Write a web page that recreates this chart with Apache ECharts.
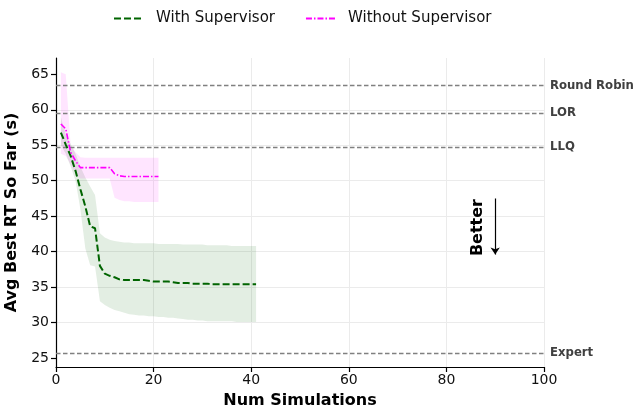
<!DOCTYPE html>
<html>
<head>
<meta charset="utf-8">
<script src="https://cdn.jsdelivr.net/npm/echarts@6/dist/echarts.min.js"></script>
<style>
  html, body { margin: 0; padding: 0; background: #fff; }
  #myChart { width: 636px; height: 413px; }
</style>
</head>
<body>
<div id="myChart"></div>
<script>
// simulations 1..41 (with supervisor) and 1..21 (without)
const simsWith = [1, 2, 3, 4, 5, 6, 7, 8, 9, 10, 11, 12, 13, 14, 15, 16, 17, 18, 19, 20,
  21, 22, 23, 24, 25, 26, 27, 28, 29, 30, 31, 32, 33, 34, 35, 36, 37, 38, 39, 40, 41]
const withMean = [56.8, 55.1, 53.5, 51.4, 48.8, 46.4, 43.6, 43.3, 38.0, 36.9, 36.6, 36.4, 36.1, 36.0, 36.0,
  36.0, 36.0, 36.0, 35.9, 35.8, 35.8, 35.8, 35.8, 35.7, 35.6, 35.6, 35.6, 35.5, 35.5, 35.5,
  35.5, 35.4, 35.4, 35.4, 35.4, 35.4, 35.4, 35.4, 35.4, 35.4, 35.4]
const withUpper = [59.0, 56.5, 55.2, 53.8, 52.0, 50.5, 49.2, 48.0, 42.6, 42.0, 41.7, 41.5, 41.4, 41.3, 41.3,
  41.2, 41.2, 41.2, 41.2, 41.2, 41.1, 41.1, 41.1, 41.1, 41.1, 41.0, 41.0, 41.0, 41.0, 41.0,
  40.9, 40.9, 40.9, 40.9, 40.9, 40.8, 40.8, 40.8, 40.8, 40.8, 40.8]
const withLower = [55.0, 53.8, 52.0, 50.0, 46.0, 40.5, 38.1, 37.9, 33.0, 32.5, 32.1, 31.8, 31.6, 31.4, 31.2,
  31.1, 31.0, 31.0, 30.9, 30.9, 30.8, 30.8, 30.7, 30.7, 30.6, 30.5, 30.4, 30.4, 30.3, 30.3,
  30.2, 30.2, 30.2, 30.2, 30.2, 30.2, 30.1, 30.1, 30.1, 30.1, 30.1]

const simsWithout = [1, 2, 3, 4, 5, 6, 7, 8, 9, 10, 11, 12, 13, 14, 15, 16, 17, 18, 19, 20, 21]
const withoutMean = [58.0, 57.3, 54.0, 52.8, 51.85, 51.85, 51.85, 51.85, 51.85, 51.85, 51.85,
  51.0, 50.7, 50.6, 50.6, 50.6, 50.6, 50.6, 50.6, 50.6, 50.6]
const withoutUpper = [65.3, 65.0, 55.0, 54.0, 53.3, 53.25, 53.25, 53.25, 53.25, 53.25, 53.25,
  53.25, 53.25, 53.25, 53.25, 53.25, 53.25, 53.25, 53.25, 53.25, 53.25]
const withoutLower = [53.8, 53.5, 52.3, 51.0, 50.3, 50.3, 50.3, 50.3, 50.3, 50.3, 50.3,
  47.6, 47.3, 47.1, 47.1, 47.0, 47.0, 47.0, 47.0, 47.0, 47.0]

// baselines
const baselineNames = ['Round Robin', 'LOR', 'LLQ', 'Expert']
const baselineValues = [63.4, 59.5, 54.7, 25.75]

const yTicks = [25, 30, 35, 40, 45, 50, 55, 60, 65]

const font = 'DejaVu Sans'
const pairs = (xs, ys) => xs.map((x, i) => [x, ys[i]])
const bandData = (xs, lo, hi) => xs.map((x, i) => [x, lo[i], hi[i]])

// one polygon for the whole band, drawn on the first item
function bandSeries (name, xs, lo, hi, color) {
  return {
    name: name,
    type: 'custom',
    silent: true,
    z: 1,
    data: bandData(xs, lo, hi),
    encode: { x: 0, y: [1, 2] },
    renderItem: function (params, api) {
      if (params.dataIndex !== 0) return null
      let pts = []
      for (let i = 0; i < xs.length; i++) pts.push(api.coord([xs[i], hi[i]]))
      for (let i = xs.length - 1; i >= 0; i--) pts.push(api.coord([xs[i], lo[i]]))
      return {
        type: 'polygon',
        shape: { points: pts },
        style: { fill: color }
      }
    }
  }
}

let myChart = echarts.init(document.getElementById('myChart'), null, { renderer: 'canvas' })

myChart.setOption({
  animation: false,
  textStyle: { fontFamily: font },
  legend: {
    data: ['With Supervisor', 'Without Supervisor'],
    top: 6,
    left: 108,
    itemWidth: 30,
    itemHeight: 14,
    itemGap: 30,
    itemStyle: { opacity: 0 },
    textStyle: { fontSize: 15, color: '#111', fontFamily: font, padding: [0, 0, 0, 7] }
  },
  grid: { left: 56, right: 92, top: 58, bottom: 46, outerBoundsMode: 'none' },
  xAxis: {
    type: 'value',
    min: 0,
    max: 100,
    interval: 20,
    name: 'Num Simulations',
    nameLocation: 'middle',
    nameGap: 26,
    nameTextStyle: { fontSize: 16, fontWeight: 'bold', color: '#000', fontFamily: font },
    axisLine: { show: true, onZero: false, lineStyle: { color: '#000', width: 1.2 } },
    axisTick: { show: true, length: 5, lineStyle: { color: '#000', width: 1.2 } },
    axisLabel: { fontSize: 14, color: '#111', margin: 6, fontFamily: font },
    splitLine: { show: true, lineStyle: { color: '#ebebeb', width: 1 } }
  },
  yAxis: {
    type: 'value',
    min: 23.75,
    max: 67.3,
    name: 'Avg Best RT So Far (s)',
    nameLocation: 'middle',
    nameGap: 33,
    nameTextStyle: { fontSize: 16, fontWeight: 'bold', color: '#000', fontFamily: font },
    axisLine: { show: true, lineStyle: { color: '#000', width: 1.2 } },
    axisTick: { show: true, length: 5, customValues: yTicks, lineStyle: { color: '#000', width: 1.2 } },
    axisLabel: { fontSize: 14, color: '#111', margin: 7, customValues: yTicks, fontFamily: font },
    splitLine: { show: true, showMinLine: false, showMaxLine: false, lineStyle: { color: '#ebebeb', width: 1 } }
  },
  series: [
    bandSeries('withBand', simsWith, withLower, withUpper, 'rgba(0,100,0,0.11)'),
    bandSeries('withoutBand', simsWithout, withoutLower, withoutUpper, 'rgba(255,0,255,0.1)'),
    {
      name: 'With Supervisor',
      type: 'line',
      symbol: 'none',
      color: '#006400',
      lineStyle: { color: '#006400', width: 2, type: [7, 3] },
      data: pairs(simsWith, withMean),
      markLine: {
        silent: true,
        symbol: 'none',
        lineStyle: { color: '#808080', width: 1.3, type: [4.5, 2.5] },
        label: {
          show: true, position: 'end', distance: 6, formatter: '{b}',
          fontSize: 11.7, fontWeight: 'bold', color: '#404040', fontFamily: font
        },
        data: baselineNames.map((n, i) => ({ name: n, yAxis: baselineValues[i] }))
      },
      z: 5
    },
    {
      name: 'Without Supervisor',
      type: 'line',
      symbol: 'none',
      color: '#ff00ff',
      lineStyle: { color: '#ff00ff', width: 1.6, type: [6, 2, 1.5, 2] },
      data: pairs(simsWithout, withoutMean),
      markLine: {
        silent: true,
        symbol: ['none', 'arrow'],
        symbolSize: 7,
        lineStyle: { color: '#000', width: 1.2, type: 'solid' },
        label: { show: false },
        data: [[{ coord: [90, 47.5] }, { coord: [90, 39.6] }]]
      },
      z: 6
    }
  ]
})

// "Better" annotation next to the arrow
const p = myChart.convertToPixel({ gridIndex: 0 }, [86.5, 43.4])
myChart.setOption({
  graphic: [{
    type: 'text',
    x: p[0],
    y: p[1],
    rotation: Math.PI / 2,
    style: {
      text: 'Better',
      font: 'bold 16px "DejaVu Sans"',
      fill: '#000',
      align: 'center',
      verticalAlign: 'middle'
    }
  }]
})
</script>
</body>
</html>
